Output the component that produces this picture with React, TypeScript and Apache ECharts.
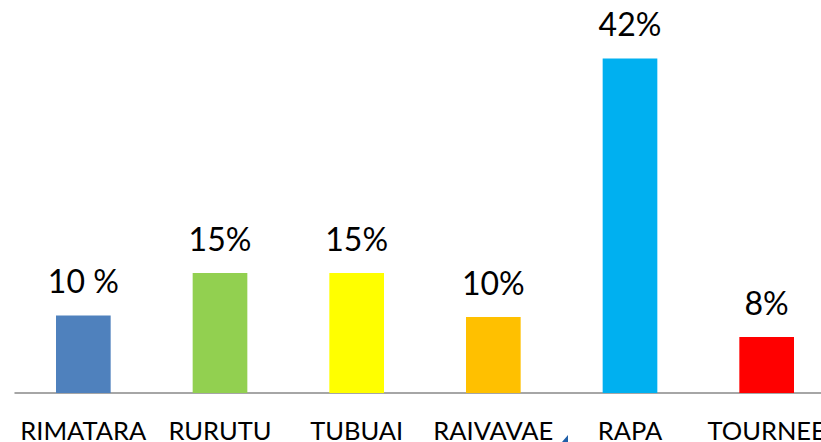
import React, { useEffect, useRef } from "react";
import * as echarts from "echarts";

const categories = ["RIMATARA", "RURUTU", "TUBUAI", "RAIVAVAE", "RAPA", "TOURNEE"];
const values = [9.7, 15, 15, 9.5, 41.8, 7];
const valueLabels = ["10 %", "15%", "15%", "10%", "42%", "8%"];
const barColors = ["#4f81bd", "#92d050", "#ffff00", "#ffc000", "#00b0f0", "#ff0000"];

export default function App() {
  const ref = useRef<HTMLDivElement>(null);
  useEffect(() => {
    if (!ref.current) return;
    const chart = echarts.init(ref.current, null, { renderer: "svg" });
    chart.setOption({
      animation: false,
      backgroundColor: "#ffffff",
      grid: {
        left: 15,
        top: 9,
        width: 820,
        height: 384,
        containLabel: false,
        outerBoundsMode: "none",
      },
      xAxis: {
        type: "category",
        data: categories,
        axisLine: { show: true, lineStyle: { color: "#898989", width: 1.5 } },
        axisTick: { show: false },
        axisLabel: {
          color: "#000000",
          fontFamily: "Lato",
          fontSize: 25.5,
          margin: 24,
          interval: 0,
        },
        splitLine: { show: false },
      },
      yAxis: {
        type: "value",
        min: 0,
        max: 48,
        show: false,
        splitLine: { show: false },
      },
      series: [
        {
          type: "bar",
          data: values.map((v, i) => ({ value: v, itemStyle: { color: barColors[i] } })),
          barCategoryGap: "60%",
          label: {
            show: true,
            position: "top",
            distance: 19,
            color: "#000000",
            fontFamily: "Lato",
            fontSize: 32,
            formatter: (p: any) => valueLabels[p.dataIndex],
          },
        },
      ],
      graphic: [
        {
          type: "polygon",
          shape: { points: [[562, 442], [568, 435], [568, 442]] },
          style: { fill: "#1f5fa8" },
        },
      ],
    });
    return () => chart.dispose();
  }, []);
  return (
    <div
      ref={ref}
      style={{ position: "fixed", left: 0, top: 0, width: 821, height: 442, background: "#fff" }}
    />
  );
}
